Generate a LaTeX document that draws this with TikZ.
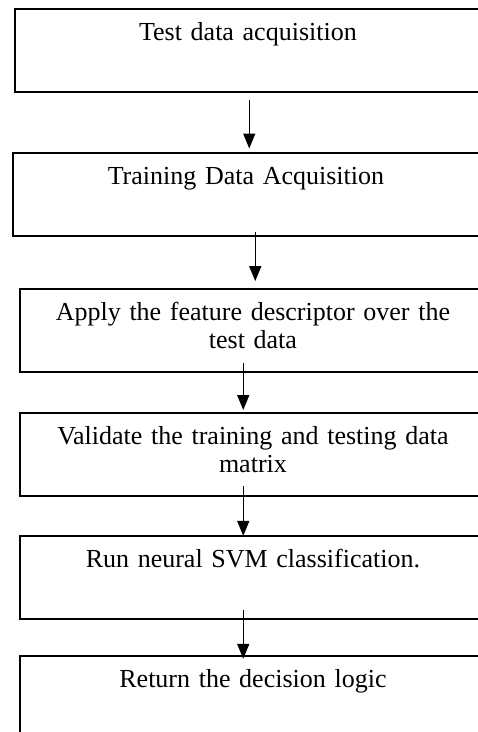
\documentclass[tikz,border=0pt]{standalone}
\usepackage{fontspec}
\setmainfont{Liberation Serif}
\usepackage{tikz}
\usetikzlibrary{arrows.meta,positioning}

\begin{document}
\begin{tikzpicture}[
font=\fontsize{26}{28}\selectfont,
stage/.style={draw, line width=1.9pt, text width=440pt, inner xsep=13pt, inner ysep=12pt, text height=20pt, text depth=39pt, align=center},
arr/.style={-{Triangle[length=15pt,width=12pt]}, line width=1.5pt}
]
\useasboundingbox (0,0) rectangle (478pt,-732pt);
\node[stage, anchor=north west] (test) at (14pt,-8pt) {Test data acquisition};
\node[stage, below=59pt of test, xshift=-2pt] (train) {Training Data Acquisition};
\node[stage, below=51pt of train, xshift=7pt] (feat) {Apply the feature descriptor over the\\test data};
\node[stage, below=39.3pt of feat] (valid) {Validate the training and testing data\\matrix};
\node[stage, below=38pt of valid] (svm) {Run neural SVM classification.};
\node[stage, below=35pt of svm] (decide) {Return the decision logic};
\draw[arr] ([xshift=1.3pt,yshift=-7pt]test.south) -- ([xshift=3.3pt,yshift=3.4pt]train.north);
\draw[arr] ([xshift=9.3pt,yshift=5pt]train.south) -- ([xshift=2.3pt,yshift=6.7pt]feat.north);
\draw[arr] ([xshift=-9.7pt,yshift=10pt]feat.south) -- ([xshift=-9.7pt,yshift=2pt]valid.north);
\draw[arr] ([xshift=-9.7pt,yshift=11pt]valid.south) -- ([xshift=-9.7pt,yshift=-1pt]svm.north);
\draw[arr] ([xshift=-9.7pt,yshift=10pt]svm.south) -- ([xshift=-9.7pt,yshift=-4pt]decide.north);
\end{tikzpicture}
\end{document}
